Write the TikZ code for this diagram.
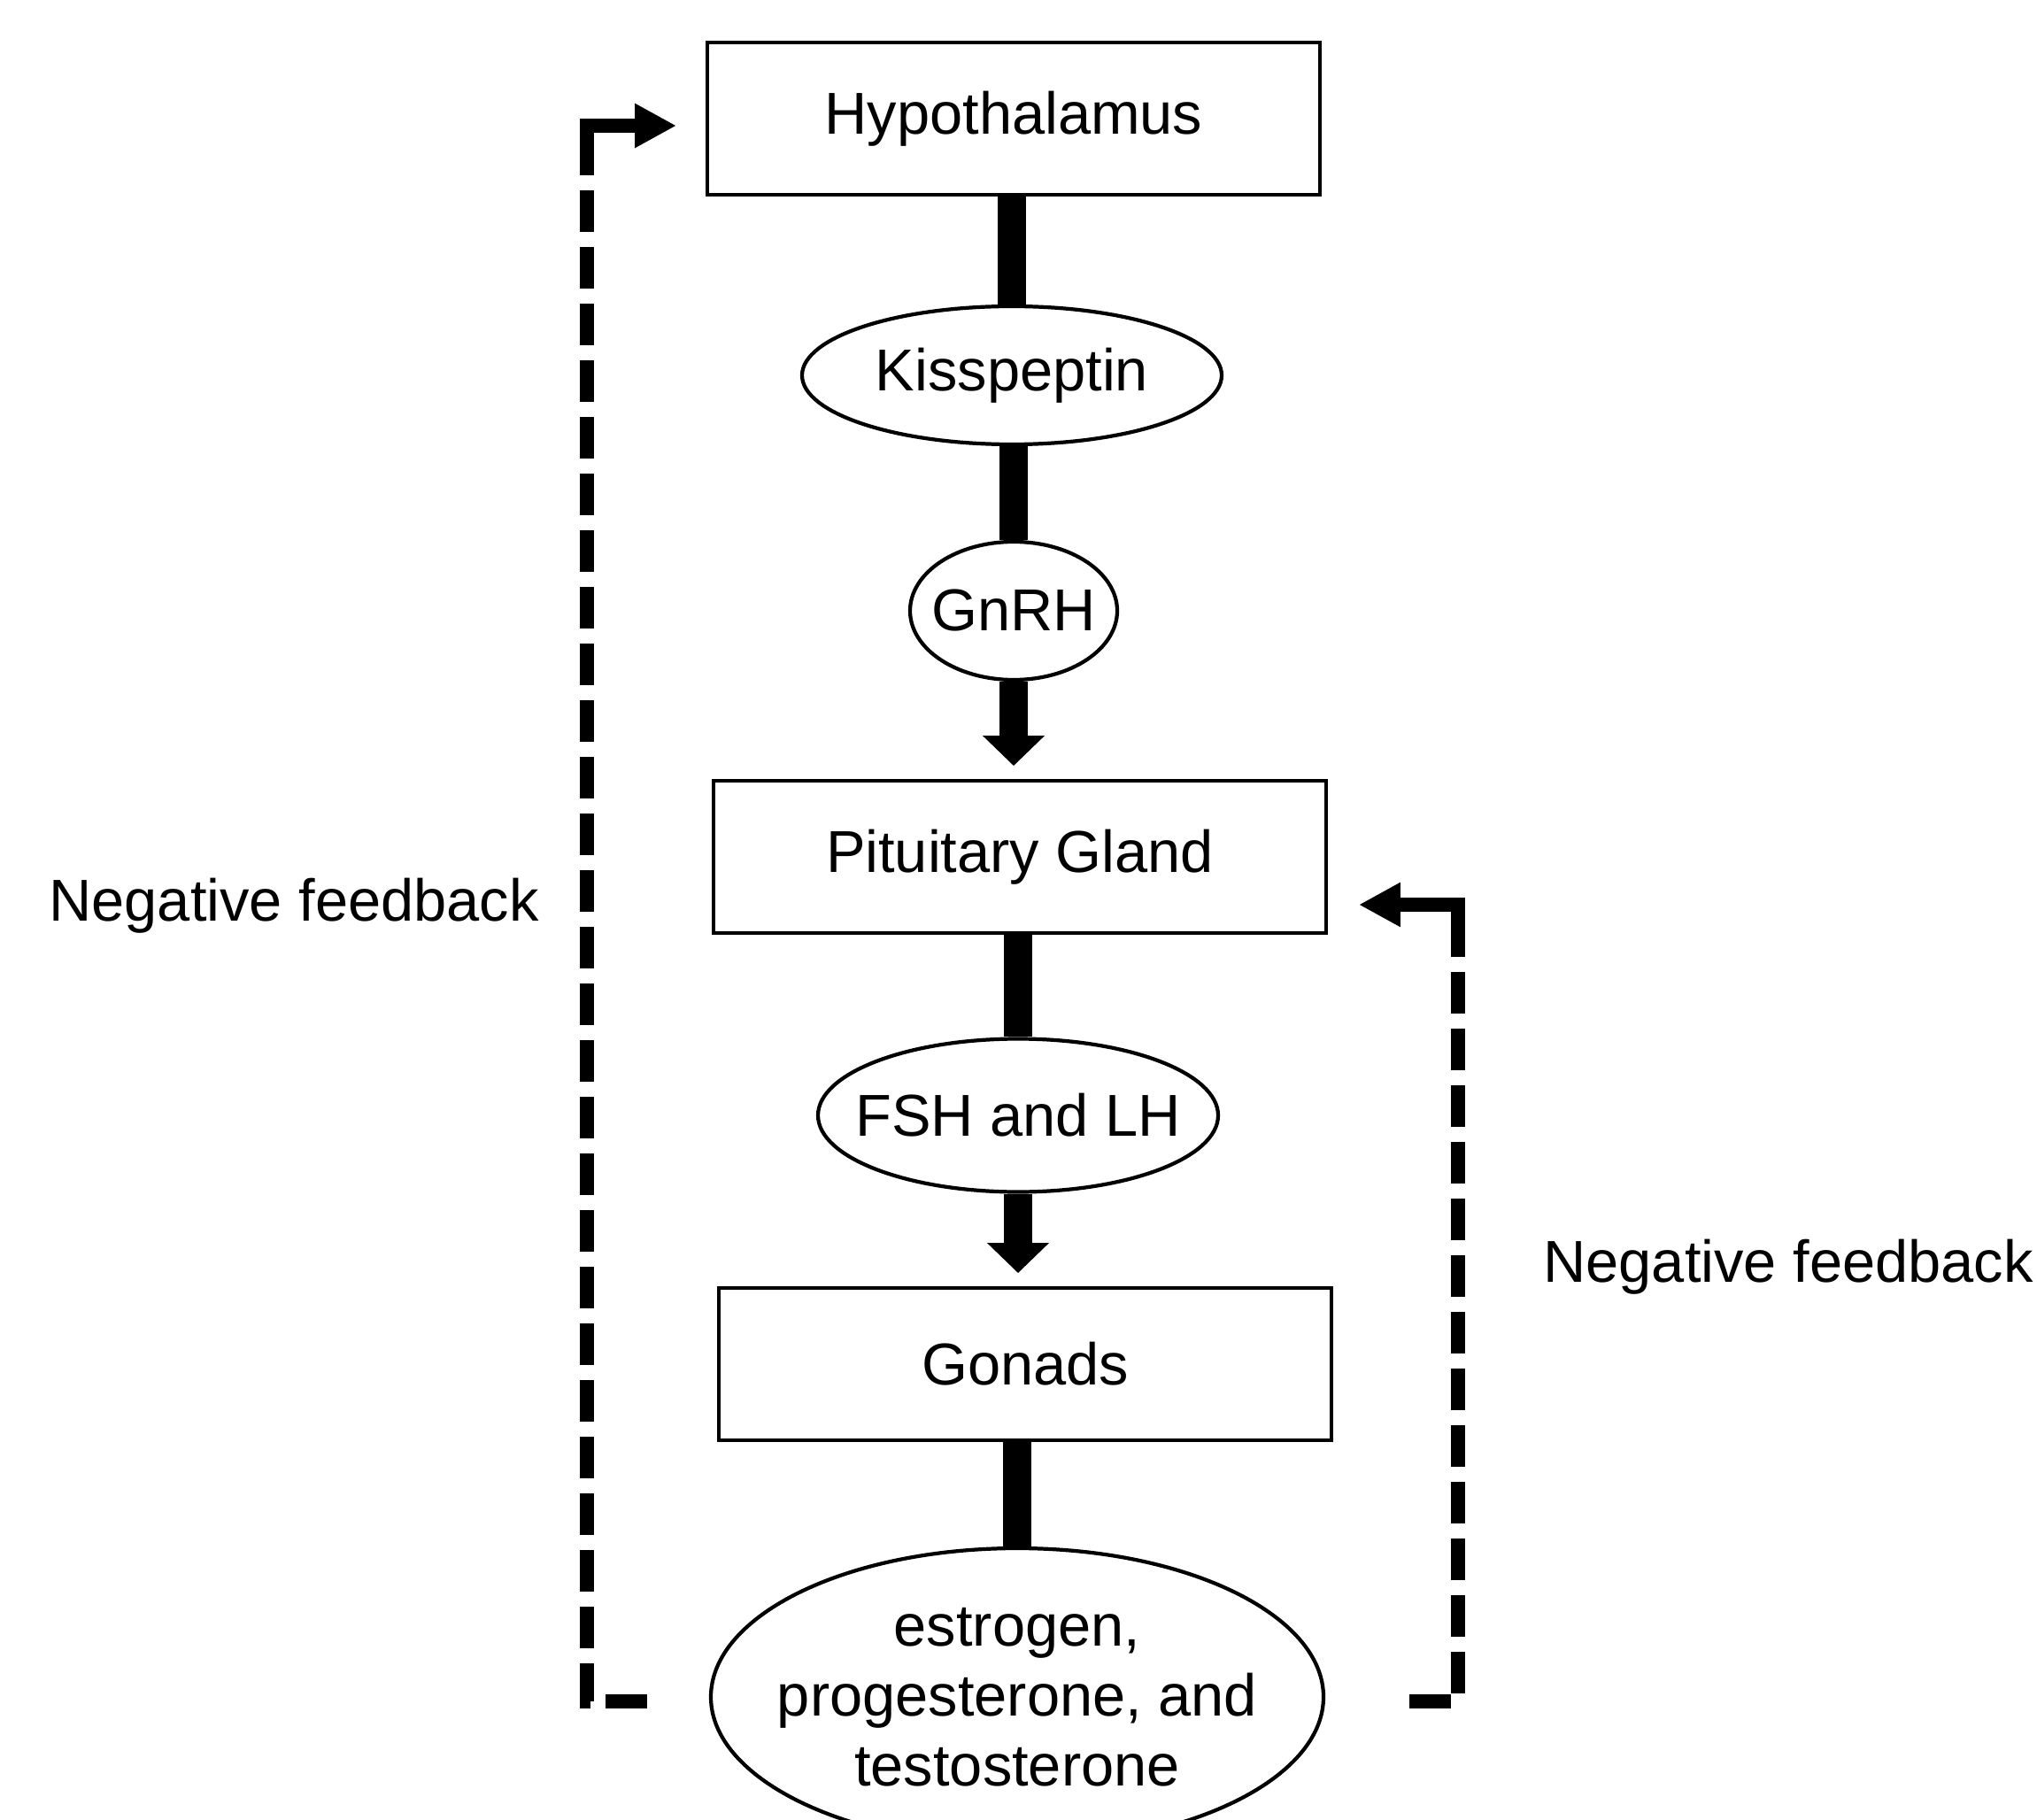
\documentclass[tikz,border=0pt]{standalone}
\usepackage{fontspec}
\setmainfont{Liberation Sans}
\usetikzlibrary{shapes.geometric,arrows.meta}

\begin{document}
\begin{tikzpicture}[line join=miter,
  box/.style={draw, line width=1.1pt, minimum width=6.92cm, minimum height=1.72cm, font=\fontsize{19}{22.5}\selectfont},
  blob/.style={ellipse, draw, line width=1.2pt, inner xsep=-0.3cm, inner ysep=0pt, align=center, font=\fontsize{19}{22.5}\selectfont},
  lbl/.style={font=\fontsize{19}{22.5}\selectfont},
  shaft/.style={line width=0.32cm},
  head/.style={-{Triangle[length=0.34cm,width=0.68cm]}},
  fb/.style={line width=0.16cm, dash pattern=on 0.47cm off 0.17cm, -{Triangle[length=0.47cm,width=0.47cm]}},
  fbcorner/.style={line width=0.16cm}]

% Frame of the picture
\useasboundingbox (0,0) rectangle (23.01,-20.56);

% Organs and hormones
\node[box] (Hy) at (11.45,-1.34) {Hypothalamus};
\node[blob, minimum width=4.74cm, minimum height=1.56cm] (Ki) at (11.43,-4.24) {Kisspeptin};
\node[blob, minimum width=2.34cm, minimum height=1.56cm] (Gn) at (11.45,-6.90) {GnRH};
\node[box] (Pi) at (11.52,-9.68) {Pituitary Gland};
\node[blob, minimum width=4.52cm, minimum height=1.73cm] (FL) at (11.50,-12.60) {FSH and LH};
\node[box] (Go) at (11.58,-15.41) {Gonads};
\node[blob, minimum width=6.92cm, minimum height=3.36cm] (Es) at (11.49,-19.17) {estrogen,\\ progesterone, and\\ testosterone};

% Main chain
\draw[shaft] (Ki.north |- Hy.south) -- (Ki.north);
\draw[shaft] (Gn.north |- Ki.south) -- (Gn.north);
\draw[shaft, head] (Gn.south) -- ([yshift=0.15cm]Gn.south |- Pi.north);
\draw[shaft] (FL.north |- Pi.south) -- (FL.north);
\draw[shaft, head] (FL.south) -- ([yshift=0.15cm]FL.south |- Go.north);
\draw[shaft] (Es.north |- Go.south) -- (Es.north);

% Feedback loops
\coordinate (L) at ([xshift=-0.70cm, yshift=-0.05cm]Es.west);
\coordinate (LC) at ([xshift=-0.68cm]L);
\coordinate (LT) at ([xshift=-0.33cm, yshift=-0.08cm]Hy.west);
\coordinate (R) at ([xshift=0.95cm, yshift=-0.05cm]Es.east);
\coordinate (RC) at ([xshift=0.55cm]R);
\coordinate (RT) at ([xshift=0.35cm, yshift=-0.54cm]Pi.east);
\draw[fb] (L) -- (LC) |- (LT);
\draw[fbcorner] ([yshift=-0.4cm]LC |- LT) |- ([xshift=-0.47cm]LT);
\draw[fb] (R) -- (RC) |- (RT);
\draw[fbcorner] ([yshift=-0.4cm]RC |- RT) |- ([xshift=0.47cm]RT);

% Labels
\node[lbl] (NL) at (3.32,-10.23) {Negative feedback};
\node[lbl] (NR) at (20.20,-14.31) {Negative feedback};

\end{tikzpicture}
\end{document}
